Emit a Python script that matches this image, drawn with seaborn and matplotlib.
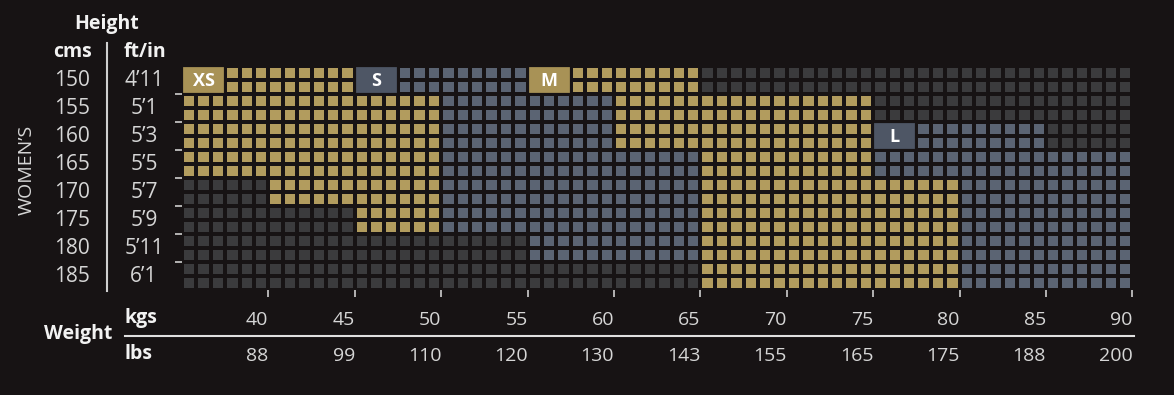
import numpy as np
import pandas as pd
import seaborn as sns
import matplotlib
matplotlib.use('Agg')
import matplotlib.pyplot as plt
from matplotlib.colors import ListedColormap
from matplotlib.patches import Rectangle
from matplotlib import transforms

plt.rcParams['font.family'] = ['Open Sans', 'DejaVu Sans']

# height bands (each band = 2 rows of squares)
heights_cm = [150, 155, 160, 165, 170, 175, 180, 185]
heights_ft = ["4\u201911", "5\u20191", "5\u20193", "5\u20195", "5\u20197", "5\u20199", "5\u201911", "6\u20191"]

# weight axis
kg_ticks = [40, 45, 50, 55, 60, 65, 70, 75, 80, 85, 90]
lb_ticks = [88, 99, 110, 120, 130, 143, 155, 165, 175, 188, 200]
kg_min, kg_max = 35, 90
cols_per_kg = 1.2

# size ranges per height band (kg from / to, nan = not available)
nan = np.nan
xs_from = [35, 35, 35, 35, 40, 45, nan, nan]
xs_to   = [45, 50, 50, 50, 50, 50, nan, nan]
s_from  = [45, 50, 50, 50, 50, 50, 55, nan]
s_to    = [55, 60, 60, 65, 65, 65, 65, nan]
m_from  = [55, 60, 60, 65, 65, 65, 65, 65]
m_to    = [65, 75, 75, 75, 80, 80, 80, 80]
l_from  = [nan, nan, 75, 75, 80, 80, 80, 80]
l_to    = [nan, nan, 85, 90, 90, 90, 90, 90]

size_names = ["XS", "S", "M", "L"]
label_kg = [35, 45, 55, 75]
label_cm = [150, 150, 150, 160]

bg = "#171314"
dark = "#3b3b3d"
gold = "#b29c5e"
blue = "#5b6473"
gold_box = "#a89256"
blue_box = "#4e5665"
txt = "#d6d6d6"
head = "#f2f2f2"
gap = 1.6

# build grid of codes: 0 empty, 1 gold (XS/M), 2 blue (S/L)
n_cols = int((kg_max - kg_min) * cols_per_kg)
col_mid = kg_min + (np.arange(n_cols) + 0.5) / cols_per_kg
ranges = [(xs_from, xs_to, 1), (s_from, s_to, 2), (m_from, m_to, 1), (l_from, l_to, 2)]
rows = []
for b in range(len(heights_cm)):
    row = np.zeros(n_cols)
    for lo, hi, code in ranges:
        if not np.isnan(lo[b]):
            row[(col_mid > lo[b]) & (col_mid < hi[b])] = code
    rows.append(row)
    rows.append(row)
grid = pd.DataFrame(np.array(rows))

fig = plt.figure(figsize=(11.74, 3.95), dpi=100, facecolor=bg)
ax = fig.add_axes([182 / 1174, 1 - 290 / 395, 950.4 / 1174, 224 / 395])
ax.set_facecolor(bg)
sns.heatmap(grid, cmap=ListedColormap([dark, gold, blue]), vmin=-0.5, vmax=2.5,
            linewidths=gap, linecolor=bg, cbar=False, ax=ax)

# size label boxes
for name, kg, cm, clr in zip(size_names, label_kg, label_cm, [gold_box, blue_box, gold_box, blue_box]):
    c0 = (kg - kg_min) * cols_per_kg
    r0 = heights_cm.index(cm) * 2
    ax.add_patch(Rectangle((c0, r0), 3, 2, facecolor=clr, edgecolor=bg, lw=gap, zorder=3))
    ax.text(c0 + 1.5, r0 + 1.05, name, color="white", fontsize=13, fontweight="bold",
            ha="center", va="center", zorder=4)

for s in ax.spines.values():
    s.set_visible(False)

xt = [(k - kg_min) * cols_per_kg for k in kg_ticks]
ax.set_xticks(xt)
ax.set_xticklabels([])
ax.set_yticks(np.arange(2, 2 * len(heights_cm), 2))
ax.set_yticklabels([])
ax.tick_params(axis='x', length=5, width=1.2, color="#cfcfcf", pad=0)
ax.tick_params(axis='y', length=5, width=1.2, color="#cfcfcf", pad=0)
ax.set_xlabel("")
ax.set_ylabel("")

trx = transforms.blended_transform_factory(ax.transData, fig.transFigure)
for x, k, lb in zip(xt, kg_ticks, lb_ticks):
    ax.text(x, 1 - 320 / 395, str(k), transform=trx, ha="right", va="center",
            color=txt, fontsize=14)
    ax.text(x, 1 - 356 / 395, str(lb), transform=trx, ha="right", va="center",
            color=txt, fontsize=14)

fig.add_artist(plt.Line2D([125 / 1174, 1134 / 1174], [1 - 336 / 395] * 2,
                          color="#e0e0e0", lw=1.5))
fig.text(125 / 1174, 1 - 318 / 395, "kgs", color=head, fontsize=14, fontweight="bold",
         ha="left", va="center")
fig.text(125 / 1174, 1 - 354 / 395, "lbs", color=head, fontsize=14, fontweight="bold",
         ha="left", va="center")
fig.text(78 / 1174, 1 - 334 / 395, "Weight", color=head, fontsize=14, fontweight="bold",
         ha="center", va="center")

# height labels
try_ = transforms.blended_transform_factory(fig.transFigure, ax.transData)
for b, (cm, ft) in enumerate(zip(heights_cm, heights_ft)):
    ax.text(72 / 1174, 2 * b + 1, str(cm), transform=try_, ha="center", va="center",
            color=txt, fontsize=15)
    ax.text(144 / 1174, 2 * b + 1, ft, transform=try_, ha="center", va="center",
            color=txt, fontsize=15)

fig.text(72 / 1174, 1 - 52 / 395, "cms", color=head, fontsize=14, fontweight="bold",
         ha="center", va="center")
fig.text(145 / 1174, 1 - 52 / 395, "ft/in", color=head, fontsize=14, fontweight="bold",
         ha="center", va="center")
fig.text(107 / 1174, 1 - 24 / 395, "Height", color=head, fontsize=14, fontweight="bold",
         ha="center", va="center")
fig.add_artist(plt.Line2D([107 / 1174] * 2, [1 - 43 / 395, 1 - 291 / 395],
                          color="#d0d0d0", lw=1.5))
fig.text(27 / 1174, 1 - 170 / 395, "WOMEN\u2019S", color=txt, fontsize=14,
         rotation=90, ha="center", va="center")

fig.savefig("out.png", dpi=100, facecolor=bg)
